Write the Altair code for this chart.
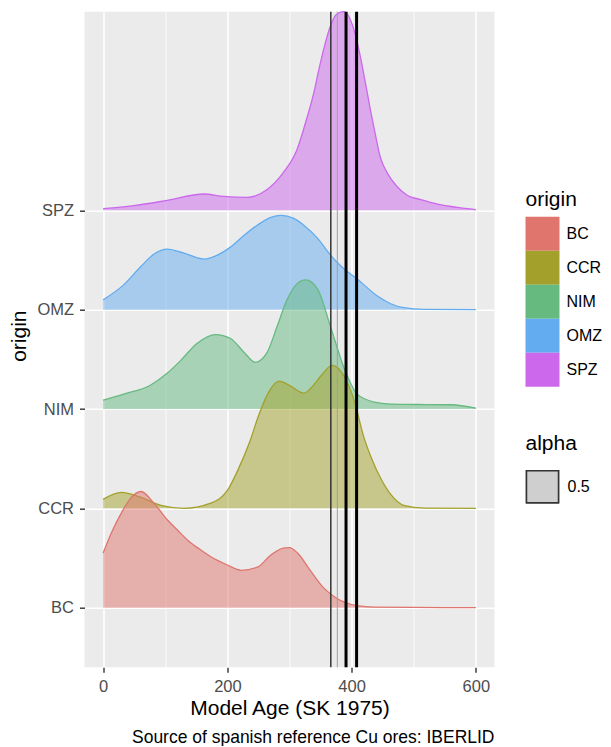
import altair as alt
import pandas as pd

# ---- data ----
origins = ["BC", "CCR", "NIM", "OMZ", "SPZ"]
colors = ["#DF756D", "#A3A12B", "#66BA80", "#62ACEF", "#CB68EC"]

bc_age = [0, 13, 29, 44, 61, 82, 104, 120, 136, 155, 174, 200, 222, 249, 270, 290, 300, 313, 334, 355, 377, 409, 436, 500, 600]
bc_h = [0.55, 0.75, 0.95, 1.10, 1.17, 1.05, 0.88, 0.78, 0.68, 0.59, 0.51, 0.43, 0.376, 0.41, 0.53, 0.60, 0.605, 0.55, 0.37, 0.20, 0.09, 0.02, 0.005, 0.003, 0.0]

ccr_age = [0, 29, 61, 93, 130, 172, 200, 218, 236, 250, 264, 283, 302, 323, 340, 350, 369, 388, 404, 420, 431, 447, 463, 484, 517, 600]
ccr_h = [0.09, 0.16, 0.11, 0.03, 0.0, 0.05, 0.18, 0.40, 0.67, 0.93, 1.14, 1.28, 1.23, 1.16, 1.25, 1.33, 1.44, 1.33, 1.09, 0.71, 0.52, 0.30, 0.14, 0.03, 0.003, 0.0]

nim_age = [0, 33, 76, 103, 125, 151, 181, 205, 227, 245, 264, 280, 296, 312, 326, 345, 366, 388, 409, 436, 463, 520, 560, 600]
nim_h = [0.09, 0.15, 0.24, 0.36, 0.49, 0.66, 0.75, 0.71, 0.57, 0.47, 0.57, 0.83, 1.10, 1.26, 1.30, 1.21, 0.83, 0.41, 0.15, 0.07, 0.05, 0.045, 0.043, 0.01]

omz_age = [0, 33, 60, 82, 103, 130, 162, 184, 205, 227, 248, 270, 286, 307, 323, 345, 366, 388, 409, 441, 463, 484, 517, 600]
omz_h = [0.10, 0.25, 0.43, 0.56, 0.61, 0.57, 0.51, 0.55, 0.63, 0.75, 0.85, 0.93, 0.95, 0.92, 0.85, 0.72, 0.55, 0.41, 0.31, 0.14, 0.06, 0.02, 0.003, 0.0]

spz_age = [0, 49, 103, 162, 194, 231, 264, 290, 312, 328, 339, 347, 355, 365, 375, 387, 398, 406, 414, 422, 430, 438, 446, 458, 473, 490, 510, 540, 570, 600]
spz_h = [0.017, 0.047, 0.10, 0.165, 0.14, 0.13, 0.21, 0.38, 0.61, 0.93, 1.18, 1.41, 1.62, 1.84, 1.97, 2.0, 1.92, 1.77, 1.55, 1.29, 1.02, 0.77, 0.54, 0.37, 0.24, 0.15, 0.11, 0.06, 0.03, 0.007]

vline_ages = [366.5, 377, 391, 408]

x_ticks = [0, 100, 200, 300, 400, 500, 600]
alpha_labels = ["0.5"]
alpha_value = 0.5

# ---- table ----
series = {"BC": (bc_age, bc_h), "CCR": (ccr_age, ccr_h), "NIM": (nim_age, nim_h),
          "OMZ": (omz_age, omz_h), "SPZ": (spz_age, spz_h)}
rows = []
for i, o in enumerate(origins):
    ages, hs = series[o]
    for a, h in zip(ages, hs):
        rows.append({"origin": o, "age": a, "level": i + 1, "top": i + 1 + h})
df = pd.DataFrame(rows)

FONT = "Liberation Sans"
xscale = alt.Scale(domain=[-30, 630], nice=False, zero=False)
yscale = alt.Scale(domain=[0.4, 7.0], nice=False, zero=False)
cscale = alt.Scale(domain=origins, range=colors)

label_js = "[" + ",".join("'" + o + "'" for o in [""] + origins) + "]"

xaxis = alt.Axis(
    values=x_ticks, title="Model Age (SK 1975)",
    labelExpr="datum.value % 200 == 0 ? datum.label : ''",
    grid=True, gridColor="white",
    gridWidth={"condition": {"test": "datum.value % 200 == 0", "value": 1.6}, "value": 0.8},
    tickOpacity={"condition": {"test": "datum.value % 200 != 0", "value": 0}, "value": 1},
    domain=False, tickColor="#333333", tickSize=5, tickWidth=1.4,
    labelFontSize=16.5, labelColor="#4d4d4d", labelPadding=6.5, labelFont=FONT,
    titleFontSize=21, titleFontWeight="normal", titleColor="black", titleFont=FONT,
    titleY=30, titleBaseline="top",
)
yaxis = alt.Axis(
    values=[1, 2, 3, 4, 5], labelExpr=label_js + "[datum.value]", title="origin",
    grid=True, gridColor="white", gridWidth=1.6,
    domain=False, tickColor="#333333", tickSize=5, tickWidth=1.4,
    labelFontSize=16.5, labelColor="#4d4d4d", labelPadding=6, labelFont=FONT,
    titleFontSize=21, titleFontWeight="normal", titleColor="black", titleFont=FONT,
    titleX=-59, titleY=324, titleBaseline="alphabetic", titleAngle=270,
)
color_legend = alt.Legend(
    title="origin", orient="none", legendX=441, legendY=177,
    symbolType="square", symbolSize=1156, symbolStrokeWidth=0, symbolOpacity=1,
    rowPadding=0, labelFontSize=16, labelFont=FONT, labelColor="black", labelOffset=7,
    titleFontSize=21, titleFontWeight="normal", titleFont=FONT, titleColor="black",
    titlePadding=7, padding=0,
)


def alpha_legend(show_text):
    return alt.Legend(
        title="alpha", orient="none", legendX=441, legendY=421,
        symbolType="square", symbolSize=1024, symbolFillColor="#cfcfcf",
        symbolStrokeColor="#333333", symbolStrokeWidth=1.5, symbolOpacity=1,
        labelFontSize=16, labelFont=FONT, labelColor="black", labelOffset=8,
        labelOpacity=1 if show_text else 0,
        titleFontSize=21, titleFontWeight="normal", titleFont=FONT, titleColor="black",
        titleOpacity=1 if show_text else 0,
        titlePadding=16, padding=0,
    )


layers = []
for o in reversed(origins):
    sub = alt.Chart(df).transform_filter(alt.datum.origin == o)
    area = sub.mark_area(interpolate="monotone", strokeWidth=0, fillOpacity=alpha_value).encode(
        x=alt.X("age:Q", scale=xscale, axis=xaxis),
        y=alt.Y("top:Q", scale=yscale, axis=yaxis),
        y2="level:Q",
        color=alt.Color("origin:N", scale=cscale, legend=color_legend),
    )
    line = sub.mark_line(interpolate="monotone", strokeWidth=1.3).encode(
        x=alt.X("age:Q", scale=xscale),
        y=alt.Y("top:Q", scale=yscale),
        stroke=alt.Stroke("origin:N", scale=cscale, legend=None),
    )
    layers += [area, line]

vdf = pd.DataFrame({"age": vline_ages, "k": list(range(len(vline_ages)))})
rule_base = alt.Chart(vdf)
r1 = rule_base.transform_filter(alt.datum.k == 0).mark_rule(color="#333333", strokeWidth=1.5).encode(x=alt.X("age:Q", scale=xscale))
r2 = rule_base.transform_filter(alt.datum.k == 1).mark_rule(color="#a0a0a0", strokeWidth=1).encode(x=alt.X("age:Q", scale=xscale))
r3 = rule_base.transform_filter(alt.datum.k >= 2).mark_rule(color="black", strokeWidth=3).encode(x=alt.X("age:Q", scale=xscale))
layers += [r1, r2, r3]

# key for the alpha legend (the mark itself is clipped away; only its legend shows)
alpha_key = alt.Chart(pd.DataFrame({"alpha": alpha_labels})).mark_point(
    filled=True, strokeWidth=1.5, opacity=1, clip=True
).encode(
    x=alt.value(-300), y=alt.value(-300),
    shape=alt.Shape("alpha:N", scale=alt.Scale(domain=alpha_labels, range=["square"]),
                    legend=alpha_legend(True)),
    fill=alt.Fill("alpha:N", scale=alt.Scale(domain=alpha_labels, range=["#cfcfcf"]),
                  legend=alpha_legend(False)),
    stroke=alt.Stroke("alpha:N", scale=alt.Scale(domain=alpha_labels, range=["#333333"]),
                      legend=alpha_legend(False)),
)
layers.append(alpha_key)

chart = alt.layer(*layers).properties(
    width=410, height=655.6,
    autosize=alt.AutoSizeParams(type="none"),
    padding={"left": 76.5, "top": 3.7, "right": 108.5, "bottom": 79},
    title=alt.TitleParams(
        text="Source of spanish reference Cu ores: IBERLID", orient="bottom",
        anchor="end", frame="group", fontSize=17.5, fontWeight="normal",
        font=FONT, color="black", offset=11,
    ),
).resolve_scale(stroke="independent").configure_view(
    fill="#EBEBEB", stroke=None
)

chart.save("out.html", embed_options={"renderer": "svg", "actions": False})
